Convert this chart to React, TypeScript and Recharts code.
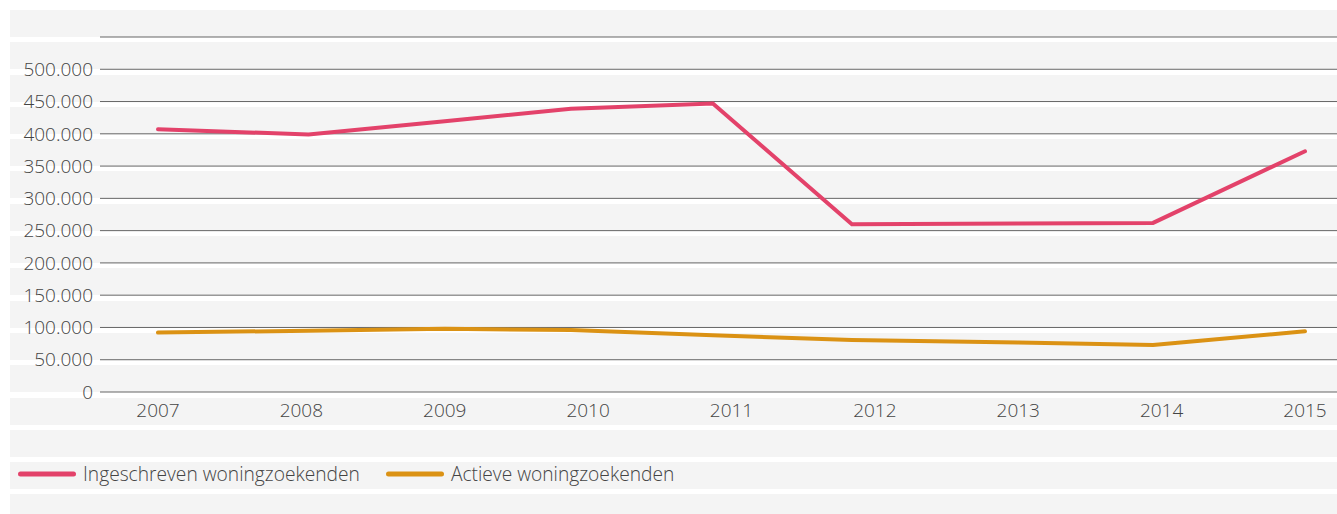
import React from 'react';
import { LineChart, Line, XAxis, YAxis, CartesianGrid, Legend } from 'recharts';

const years = [2007, 2008, 2009, 2010, 2011, 2012, 2013, 2014, 2015];
// position of each measurement along the time axis (in years)
const pointPositions = [2007, 2008.05, 2009, 2009.88, 2010.87, 2011.84, 2013, 2013.94, 2015];
const ingeschreven = [407000, 399000, 419500, 439000, 447000, 260000, 261000, 262000, 373000];
const actieve = [92000, 95000, 98000, 96000, 88000, 80500, 76500, 73000, 94000];
const yTicks = [0, 50000, 100000, 150000, 200000, 250000, 300000, 350000, 400000, 450000, 500000, 550000];
const seriesNames = ['Ingeschreven woningzoekenden', 'Actieve woningzoekenden'];

const RED = '#e3426a';
const ORANGE = '#db9214';
const FONT = '"Open Sans", "Noto Sans", sans-serif';
const TEXT = '#444';

const data = years.map((y, i) => ({ x: pointPositions[i], a: ingeschreven[i], b: actieve[i] }));

const fmt = (v: number) => {
  if (v === 550000) return '';
  if (v === 0) return '0';
  const s = String(v);
  return s.slice(0, s.length - 3) + '.' + s.slice(s.length - 3);
};

const LegendContent = () => (
  <div style={{ display: 'flex', alignItems: 'center', height: 24, fontFamily: FONT, fontSize: 19.2, color: TEXT, fontWeight: 300 }}>
    {[RED, ORANGE].map((c, i) => (
      <div key={i} style={{ display: 'flex', alignItems: 'center', marginLeft: i === 0 ? 18 : 26 }}>
        <svg width={58} height={8} style={{ display: 'block' }}>
          <line x1={2.5} y1={4} x2={55.5} y2={4} stroke={c} strokeWidth={5} strokeLinecap="round" />
        </svg>
        <span style={{ marginLeft: 7, lineHeight: '24px', whiteSpace: 'nowrap' }}>{seriesNames[i]}</span>
      </div>
    ))}
  </div>
);

export default function App() {
  return (
    <div style={{ position: 'absolute', left: 0, top: 0, width: 1337, height: 514, background: '#fff', overflow: 'hidden' }}>
      <div
        style={{
          position: 'absolute',
          left: 10,
          top: 10,
          width: 1327,
          height: 504,
          background: 'repeating-linear-gradient(to bottom, #f4f4f4 0px, #f4f4f4 27px, #ffffff 27px, #ffffff 32.3px)',
        }}
      />
      <div style={{ position: 'absolute', left: 0, top: 0 }}>
        <LineChart width={1337} height={514} data={data} margin={{ top: 37, right: 0, bottom: 92, left: 0 }} style={{ fontFamily: FONT }}>
          <CartesianGrid horizontal vertical={false} stroke="#555" strokeWidth={1} strokeOpacity={0.9} />
          <XAxis
            dataKey="x"
            type="number"
            domain={[2007, 2015]}
            ticks={years}
            allowDecimals={false}
            height={30}
            axisLine={false}
            tickLine={false}
            tickSize={0}
            tickMargin={12}
            padding={{ left: 58, right: 32 }}
            tick={{ fill: TEXT, fontSize: 19, fontFamily: FONT, fontWeight: 300 }}
            interval={0}
          />
          <YAxis
            width={100}
            domain={[0, 550000]}
            ticks={yTicks}
            tickFormatter={fmt}
            axisLine={false}
            tickLine={false}
            tickSize={0}
            tickMargin={7}
            tick={{ fill: TEXT, fontSize: 19, fontFamily: FONT, fontWeight: 300 }}
            interval={0}
          />
          <Legend
            layout="horizontal"
            verticalAlign="middle"
            align="center"
            content={<LegendContent />}
            wrapperStyle={{ position: 'absolute', left: 0, top: 462, width: 1337, height: 24 }}
          />
          <Line type="linear" dataKey="a" name={seriesNames[0]} stroke={RED} strokeWidth={4} dot={false} activeDot={false} strokeLinecap="round" isAnimationActive={false} />
          <Line type="linear" dataKey="b" name={seriesNames[1]} stroke={ORANGE} strokeWidth={4} dot={false} activeDot={false} strokeLinecap="round" isAnimationActive={false} />
        </LineChart>
      </div>
    </div>
  );
}
